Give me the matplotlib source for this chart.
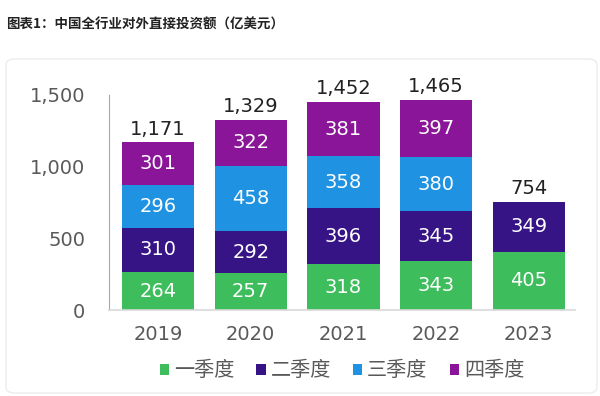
import matplotlib
matplotlib.use("Agg")
import matplotlib.pyplot as plt
from matplotlib.patches import FancyBboxPatch
import numpy as np

plt.rcParams['font.family'] = ['DejaVu Sans', 'Noto Sans CJK SC']

years = ['2019', '2020', '2021', '2022', '2023']
q1 = [264, 257, 318, 343, 405]
q2 = [310, 292, 396, 345, 349]
q3 = [296, 458, 358, 380, 0]
q4 = [301, 322, 381, 397, 0]
totals = [1171, 1329, 1452, 1465, 754]
series_names = ['一季度', '二季度', '三季度', '四季度']
colors = ['#3dbd5c', '#371486', '#1f93e2', '#8a1598']

fig = plt.figure(figsize=(6, 3.96), dpi=100)
fig.patch.set_facecolor('white')

# rounded panel behind the chart
panel = FancyBboxPatch((6 / 600, 3 / 396), 591 / 600, 334 / 396,
                       boxstyle="round,pad=0,rounding_size=0.015",
                       transform=fig.transFigure, facecolor='white',
                       edgecolor='#ececec', linewidth=1.0, zorder=-10)
fig.patches.append(panel)

fig.text(6 / 600, 1 - 25 / 396, '图表1：中国全行业对外直接投资额（亿美元）',
         fontsize=9.7, fontweight='bold', color='#222222', va='center', ha='left',
         family=['Noto Sans CJK SC', 'DejaVu Sans'])

ax = fig.add_axes([109 / 600, 1 - 310 / 396, (575 - 109) / 600, (310 - 95) / 396])
ax.set_facecolor('none')

x = np.arange(len(years))
width = 0.78
bottom = np.zeros(len(years))
for vals, name, c in zip([q1, q2, q3, q4], series_names, colors):
    vals = np.array(vals, dtype=float)
    ax.bar(x, vals, width, bottom=bottom, color=c, label=name, zorder=2)
    for xi, v, b in zip(x, vals, bottom):
        if v > 0:
            ax.text(xi, b + v / 2, f'{int(v)}', ha='center', va='center',
                    color='white', fontsize=14)
    bottom += vals

for xi, t in zip(x, totals):
    ax.text(xi, t + 25, f'{t:,}', ha='center', va='bottom', color='#222222',
            fontsize=14, clip_on=False)

ax.set_xlim(-0.53, 4.5)
ax.set_ylim(0, 1500)
ax.set_yticks([0, 500, 1000, 1500])
ax.set_yticklabels(['0', '500', '1,000', '1,500'])
ax.set_xticks(x)
ax.set_xticklabels(years)
ax.tick_params(axis='both', colors='#595959', labelsize=14, length=0)
ax.tick_params(axis='y', pad=17)
ax.tick_params(axis='x', pad=11)
for s in ['top', 'right']:
    ax.spines[s].set_visible(False)
ax.spines['left'].set_color('#a6a6a6')
ax.spines['bottom'].set_color('#d9d9d9')
ax.spines['bottom'].set_linewidth(1.2)

leg = ax.legend(loc='upper center', bbox_to_anchor=(0.5, -0.15), ncol=4,
                frameon=False, handlelength=0.45, handleheight=0.45,
                handletextpad=0.25, columnspacing=1.1,
                prop={'family': ['Noto Sans CJK SC', 'DejaVu Sans'], 'size': 14.5})
for t in leg.get_texts():
    t.set_color('#595959')

fig.savefig('out.png', dpi=100)
